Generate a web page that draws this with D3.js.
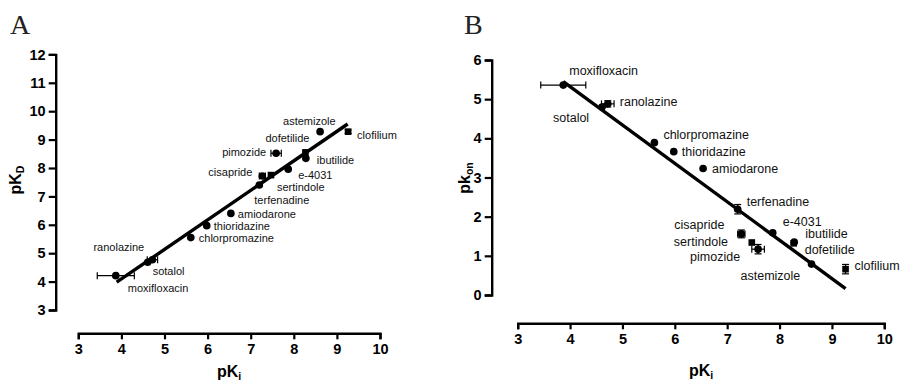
<!DOCTYPE html>
<html><head><meta charset="utf-8">
<script src="https://cdn.jsdelivr.net/npm/d3@7"></script>
<style>body{margin:0;background:#fff}svg{display:block}</style>
</head><body>
<svg id="chart" width="901" height="381"></svg>
<script>
// hERG blockers: binding affinity (pKi) vs. dissociation constant (pKD) and on-rate (pkon)
const compounds = ["astemizole","clofilium","dofetilide","ibutilide","pimozide","e-4031","cisapride","sertindole","terfenadine","amiodarone","thioridazine","chlorpromazine","sotalol","ranolazine","moxifloxacin"];
const markerShapes = ["circle","square","square","circle","circle","circle","circle","square","circle","circle","circle","circle","circle","circle","circle"];
const pKi      = [8.61, 9.26, 8.27, 8.28, 7.59, 7.87, 7.27, 7.47, 7.20, 6.54, 5.98, 5.61, 4.61, 4.72, 3.87];
const pKiErr   = [0, 0, 0, 0, 0.12, 0, 0.07, 0, 0, 0, 0, 0, 0, 0.12, 0.43];
const pKD      = [9.28, 9.28, 8.55, 8.34, 8.52, 7.96, 7.72, 7.75, 7.40, 6.40, 5.97, 5.55, 4.68, 4.77, 4.21];
const pKDErr   = [0, 0.06, 0, 0, 0, 0, 0, 0, 0, 0, 0, 0, 0, 0, 0];
const pkon     = [0.79, 0.66, 1.32, 1.35, 1.17, 1.59, 1.56, 1.34, 2.19, 3.23, 3.66, 3.89, 4.80, 4.88, 5.36];
const pkonErr  = [0, 0.12, 0, 0, 0.12, 0, 0.10, 0, 0.12, 0, 0, 0, 0, 0.08, 0];

// linear regressions
const fitA = {slope: 1.039, intercept: -0.062, from: 3.89, to: 9.25};
const fitB = {slope: -0.980, intercept: 9.24, from: 3.87, to: 9.26};

const xTicks  = [3, 4, 5, 6, 7, 8, 9, 10];
const yTicksA = [3, 4, 5, 6, 7, 8, 9, 10, 11, 12];
const yTicksB = [0, 1, 2, 3, 4, 5, 6];

// label placement (pixel offsets from each marker: [dx, dy])
const labelOffsetsA = {
  "astemizole":[-37,-7], "clofilium":[9,7], "dofetilide":[-40,-10], "ibutilide":[11,6],
  "pimozide":[-54,3], "e-4031":[10,10], "cisapride":[-54,0], "sertindole":[6,16],
  "terfenadine":[-5,19], "amiodarone":[7,5], "thioridazine":[7,4], "chlorpromazine":[8,4],
  "sotalol":[5,13], "ranolazine":[-59,-9], "moxifloxacin":[12,16]
};
const labelOffsetsB = {
  "moxifloxacin":[6,-10], "ranolazine":[12,2], "sotalol":[-49,15], "chlorpromazine":[9,-4],
  "thioridazine":[8,4], "amiodarone":[9,5], "terfenadine":[9,-3], "cisapride":[-67,-5],
  "e-4031":[10,-7], "ibutilide":[11,-4], "sertindole":[-78,3], "dofetilide":[11,11],
  "pimozide":[-68,12], "clofilium":[9,1], "astemizole":[-71,16]
};

const svg = d3.select("#chart");
const FONT = "Arial, 'Liberation Sans', sans-serif";

function panel(cfg) {
  const x = d3.scaleLinear().domain([3, 10]).range(cfg.xRange);
  const y = d3.scaleLinear().domain(cfg.yDomain).range(cfg.yRange);
  const g = svg.append("g");

  // panel letter
  g.append("text").attr("x", cfg.letterPos[0]).attr("y", cfg.letterPos[1])
    .attr("font-family", "'Liberation Serif', 'Times New Roman', serif")
    .attr("font-size", 28).attr("fill", "#222").text(cfg.letter);

  // axes (offset, Prism style)
  const xAxis = g.append("g").attr("transform", `translate(0,${cfg.xAxisY})`)
    .call(d3.axisBottom(x).tickValues(xTicks).tickFormat(d3.format("d")).tickSizeOuter(0).tickSize(6).tickPadding(4));
  const yAxis = g.append("g").attr("transform", `translate(${cfg.yAxisX},0)`)
    .call(d3.axisLeft(y).tickValues(cfg.yTicks).tickFormat(d3.format("d")).tickSizeOuter(0).tickSize(7).tickPadding(3));
  [xAxis, yAxis].forEach(a => {
    a.select(".domain").attr("stroke", "#000").attr("stroke-width", 2.4);
    a.selectAll(".tick line").attr("stroke", "#000").attr("stroke-width", 2.2);
    a.selectAll(".tick text").attr("font-family", FONT).attr("font-weight", "bold")
      .attr("font-size", 14.5).attr("fill", "#000");
  });

  // axis titles
  const xt = g.append("text").attr("x", (cfg.xRange[0] + cfg.xRange[1]) / 2).attr("y", cfg.xTitleY)
    .attr("text-anchor", "middle").attr("font-family", FONT).attr("font-weight", "bold").attr("font-size", 16);
  xt.append("tspan").text("pK");
  xt.append("tspan").attr("font-size", 10.5).attr("dy", 3).text("i");

  const yt = g.append("text")
    .attr("transform", `translate(${cfg.yTitleX},${cfg.yTitleY}) rotate(-90)`)
    .attr("text-anchor", "middle").attr("font-family", FONT).attr("font-weight", "bold").attr("font-size", 16);
  yt.append("tspan").text(cfg.yTitle[0]);
  yt.append("tspan").attr("font-size", 10.5).attr("dy", 3).text(cfg.yTitle[1]);

  // regression line
  const f = cfg.fit;
  g.append("line")
    .attr("x1", x(f.from)).attr("y1", y(f.intercept + f.slope * f.from))
    .attr("x2", x(f.to)).attr("y2", y(f.intercept + f.slope * f.to))
    .attr("stroke", "#000").attr("stroke-width", 3.4);

  const pts = compounds.map((name, i) => ({
    name, shape: markerShapes[i], x: pKi[i], xe: pKiErr[i], y: cfg.yVals[i], ye: cfg.yErr[i]
  }));

  // error bars
  const eb = g.append("g").attr("stroke", "#000").attr("stroke-width", 1.2).attr("fill", "none");
  pts.forEach(p => {
    const cx = x(p.x), cy = y(p.y), cap = 3.5;
    if (p.xe > 0) {
      const a = x(p.x - p.xe), b = x(p.x + p.xe);
      eb.append("line").attr("x1", a).attr("x2", b).attr("y1", cy).attr("y2", cy);
      eb.append("line").attr("x1", a).attr("x2", a).attr("y1", cy - cap).attr("y2", cy + cap);
      eb.append("line").attr("x1", b).attr("x2", b).attr("y1", cy - cap).attr("y2", cy + cap);
    }
    if (p.ye > 0) {
      const a = y(p.y - p.ye), b = y(p.y + p.ye);
      eb.append("line").attr("x1", cx).attr("x2", cx).attr("y1", a).attr("y2", b);
      eb.append("line").attr("y1", a).attr("y2", a).attr("x1", cx - cap).attr("x2", cx + cap);
      eb.append("line").attr("y1", b).attr("y2", b).attr("x1", cx - cap).attr("x2", cx + cap);
    }
  });

  // markers
  const sym = {circle: d3.symbolCircle, square: d3.symbolSquare};
  g.selectAll("path.pt").data(pts).join("path").attr("class", "pt")
    .attr("transform", d => `translate(${x(d.x)},${y(d.y)})`)
    .attr("d", d => d3.symbol().type(sym[d.shape]).size(d.shape === "circle" ? 46 : 44)())
    .attr("fill", "#000");

  // compound labels
  g.selectAll("text.lbl").data(pts).join("text").attr("class", "lbl")
    .attr("x", d => x(d.x) + cfg.labels[d.name][0])
    .attr("y", d => y(d.y) + cfg.labels[d.name][1])
    .attr("font-family", FONT).attr("font-size", cfg.labelSize).attr("fill", "#111")
    .text(d => d.name);
}

panel({
  letter: "A", letterPos: [10, 34],
  xRange: [78.3, 380], yDomain: [3, 12], yRange: [310, 54.4], yTicks: yTicksA,
  xAxisY: 333.3, yAxisX: 55.7, xTitleY: 377, yTitleX: 21, yTitleY: 180,
  yTitle: ["pK", "D"], yVals: pKD, yErr: pKDErr, fit: fitA, labels: labelOffsetsA, labelSize: 11
});

panel({
  letter: "B", letterPos: [464, 34],
  xRange: [517.7, 884.3], yDomain: [0, 6], yRange: [295, 60], yTicks: yTicksB,
  xAxisY: 323.3, yAxisX: 491.7, xTitleY: 376, yTitleX: 470, yTitleY: 178,
  yTitle: ["pk", "on"], yVals: pkon, yErr: pkonErr, fit: fitB, labels: labelOffsetsB, labelSize: 12.5
});
</script>
</body></html>
